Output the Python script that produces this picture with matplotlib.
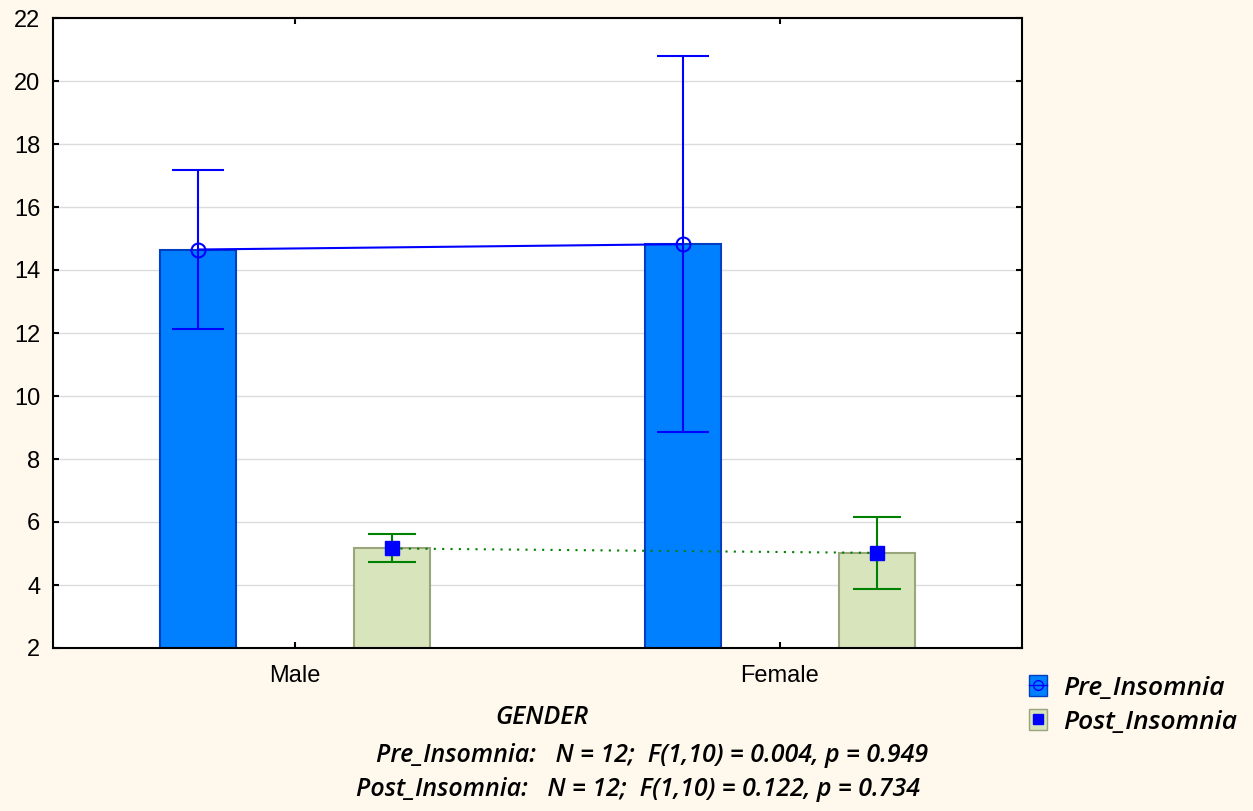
import matplotlib.pyplot as plt
from matplotlib.patches import Patch
from matplotlib.lines import Line2D
import numpy as np

# data
genders = ['Male', 'Female']
pre_mean = [14.65, 14.82]
pre_low = [12.12, 8.86]
pre_high = [17.18, 20.8]
post_mean = [5.16, 5.02]
post_low = [4.74, 3.86]
post_high = [5.62, 6.16]
stats_lines = ['Pre_Insomnia:   N = 12;  F(1,10) = 0.004, p = 0.949',
               'Post_Insomnia:   N = 12;  F(1,10) = 0.122, p = 0.734']

bg = '#FFF8EC'
pre_fill, pre_edge = '#0080FF', '#0040C0'
post_fill, post_edge = '#D8E4BC', '#9AA57E'
ital = dict(family=['Open Sans', 'DejaVu Sans'], style='italic', weight='semibold')

fig = plt.figure(figsize=(12.53, 8.11), dpi=100, facecolor=bg)
ax = fig.add_axes([53 / 1253, 163 / 811, 969 / 1253, 630 / 811])

x = np.arange(len(genders))
off = 0.2
w = 0.157

ax.bar(x - off, pre_mean, width=w, color=pre_fill, edgecolor=pre_edge, linewidth=1.5, zorder=2)
ax.bar(x + off, post_mean, width=w, color=post_fill, edgecolor=post_edge, linewidth=1.5, zorder=2)

pre_err = [np.array(pre_mean) - np.array(pre_low), np.array(pre_high) - np.array(pre_mean)]
post_err = [np.array(post_mean) - np.array(post_low), np.array(post_high) - np.array(post_mean)]
ax.errorbar(x - off, pre_mean, yerr=pre_err, fmt='none', ecolor='#0000FF',
            elinewidth=1.5, capsize=19, capthick=1.5, zorder=3)
ax.errorbar(x + off, post_mean, yerr=post_err, fmt='none', ecolor='#008000',
            elinewidth=1.5, capsize=17, capthick=1.5, zorder=3)

ax.plot(x - off, pre_mean, color='#0000FF', lw=1.5, marker='o', markersize=10,
        markerfacecolor='none', markeredgecolor='#0000FF', markeredgewidth=1.5, zorder=4)
ax.plot(x + off, post_mean, color='#008000', lw=1.5, ls=(0, (1, 3)), zorder=4)
ax.plot(x + off, post_mean, ls='none', marker='s', markersize=10,
        markerfacecolor='#0000FF', markeredgecolor='#0000FF', zorder=5)

ax.set_xlim(-0.5, 1.5)
ax.set_ylim(2, 22)
ax.set_yticks(np.arange(2, 23, 2))
ax.set_xticks(x)
ax.set_xticklabels(genders)
ax.grid(axis='y', color='#DCDCDC', lw=1, zorder=0)
ax.set_axisbelow(True)
ax.tick_params(direction='in', length=4, width=1.5, top=True, right=True,
               labelsize=17, pad=9)
ax.tick_params(axis='x', pad=12)
for lab in ax.get_xticklabels() + ax.get_yticklabels():
    lab.set_family(['Liberation Sans', 'DejaVu Sans'])
for s in ax.spines.values():
    s.set_linewidth(1.5)

fig.text(542 / 1253, 1 - 718 / 811, 'GENDER', ha='center', va='center', fontsize=18, **ital)
fig.text(652 / 1253, 1 - 755 / 811, stats_lines[0], ha='center', va='center', fontsize=18, **ital)
fig.text(638 / 1253, 1 - 790 / 811, stats_lines[1], ha='center', va='center', fontsize=18, **ital)

h_pre = (Patch(facecolor=pre_fill, edgecolor=pre_edge),
         Line2D([], [], color='#0000FF', marker='o', markersize=7, markerfacecolor='none', lw=1))
h_post = (Patch(facecolor=post_fill, edgecolor=post_edge),
          Line2D([], [], ls='none', color='#0000FF', marker='s', markersize=7))
fig.legend([h_pre, h_post], ['Pre_Insomnia', 'Post_Insomnia'],
           loc='upper left', bbox_to_anchor=(1018 / 1253, 1 - 664 / 811),
           frameon=False, handlelength=0.7, handleheight=0.9, handletextpad=0.6,
           labelspacing=0.3, borderaxespad=0, prop=dict(size=19, **ital))

fig.savefig('out.png', dpi=100, facecolor=bg)
